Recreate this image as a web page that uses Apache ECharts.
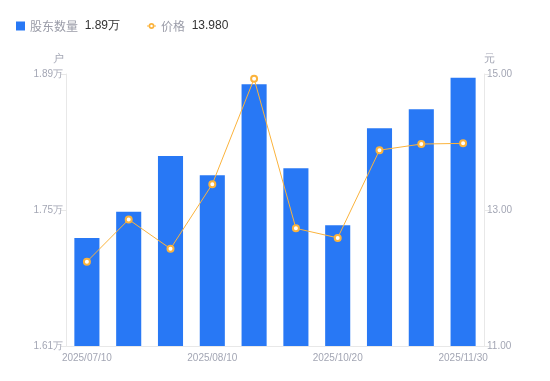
<!DOCTYPE html>
<html>
<head>
<meta charset="utf-8">
<script src="https://cdn.jsdelivr.net/npm/echarts@6/dist/echarts.min.js"></script>
<style>html,body{margin:0;padding:0;background:#fff}#c{width:550px;height:381px}</style>
</head>
<body>
<div id="c"></div>
<script>
const categories = ['2025/07/10','2025/07/20','2025/07/31','2025/08/10','2025/08/20','2025/08/31','2025/10/20','2025/10/31','2025/11/20','2025/11/30'];
const holders = [17212, 17483, 18056, 17857, 18794, 17929, 17343, 18341, 18537, 18862];
const prices = [12.24, 12.86, 12.43, 13.38, 14.93, 12.73, 12.59, 13.88, 13.97, 13.98];
const leftTicks = [16100, 17500, 18900];
const rightTicks = [11, 13, 15];

const labelColor = '#a3a6b4';
const lineColor = '#e8e8e8';
const barColor = '#2878f5';
const priceColor = '#fbb33c';

const chart = echarts.init(document.getElementById('c'), null, {renderer: 'canvas'});
const lastHolder = holders[holders.length - 1];
const lastPrice = prices[prices.length - 1];
const fmtWan = v => (v / 10000).toFixed(2) + '万';
const lineIcon = 'path://M0,4.4 L3.2,4.4 L3.2,5.6 L0,5.6 Z M6.8,4.4 L10,4.4 L10,5.6 L6.8,5.6 Z M5,1.8 A3.2,3.2 0 1 1 4.999,1.8 Z M5,3.6 A1.4,1.4 0 1 0 5.001,3.6 Z';

chart.setOption({
  animation: false,
  legend: {
    left: 11, top: 15,
    itemWidth: 9, itemHeight: 9, itemGap: 27,
    data: [
      {name: '股东数量', icon: 'rect'},
      {name: '价格', icon: lineIcon, itemStyle: {color: priceColor, borderWidth: 0}}
    ],
    formatter: function (name) {
      if (name === '股东数量') return '{n|' + name + '}  {v|' + fmtWan(lastHolder) + '}';
      return '{n|' + name + '}  {v|' + lastPrice.toFixed(3) + '}';
    },
    textStyle: {
      rich: {
        n: {color: '#9a9ca8', fontSize: 12, fontFamily: 'Noto Sans CJK SC'},
        v: {color: '#333', fontSize: 12, fontFamily: 'Liberation Sans'}
      }
    }
  },
  grid: {left: 66, right: 66, top: 74, bottom: 35, containLabel: false},
  xAxis: {
    type: 'category',
    data: categories,
    axisLine: {lineStyle: {color: lineColor}},
    axisTick: {show: false},
    axisLabel: {
      interval: 2, color: labelColor, fontSize: 10, margin: 7,
      fontFamily: 'Liberation Sans'
    }
  },
  yAxis: [
    {
      type: 'value', name: '户', min: leftTicks[0], max: leftTicks[2], interval: 1400,
      nameTextStyle: {color: labelColor, fontSize: 11, padding: [0, 16, 0, 0]},
      nameGap: 10,
      axisLine: {show: true, lineStyle: {color: lineColor}},
      axisTick: {show: true, length: 5, lineStyle: {color: lineColor}},
      splitLine: {show: false},
      axisLabel: {color: labelColor, fontSize: 10, margin: 3, fontFamily: 'Liberation Sans', formatter: fmtWan}
    },
    {
      type: 'value', name: '元', min: rightTicks[0], max: rightTicks[2], interval: 2,
      nameTextStyle: {color: labelColor, fontSize: 11, padding: [0, 0, 0, 10]},
      nameGap: 10,
      axisLine: {show: true, lineStyle: {color: lineColor}},
      axisTick: {show: true, length: 5, lineStyle: {color: lineColor}},
      splitLine: {show: false},
      axisLabel: {color: labelColor, fontSize: 10, margin: 3, fontFamily: 'Liberation Sans', formatter: v => v.toFixed(2)}
    }
  ],
  series: [
    {
      name: '股东数量', type: 'bar', yAxisIndex: 0, data: holders,
      barWidth: '60%',
      itemStyle: {color: barColor}
    },
    {
      name: '价格', type: 'line', yAxisIndex: 1, data: prices,
      symbol: 'emptyCircle', symbolSize: 6,
      lineStyle: {color: priceColor, width: 1},
      itemStyle: {color: priceColor, borderWidth: 2}
    }
  ]
});
</script>
</body>
</html>
